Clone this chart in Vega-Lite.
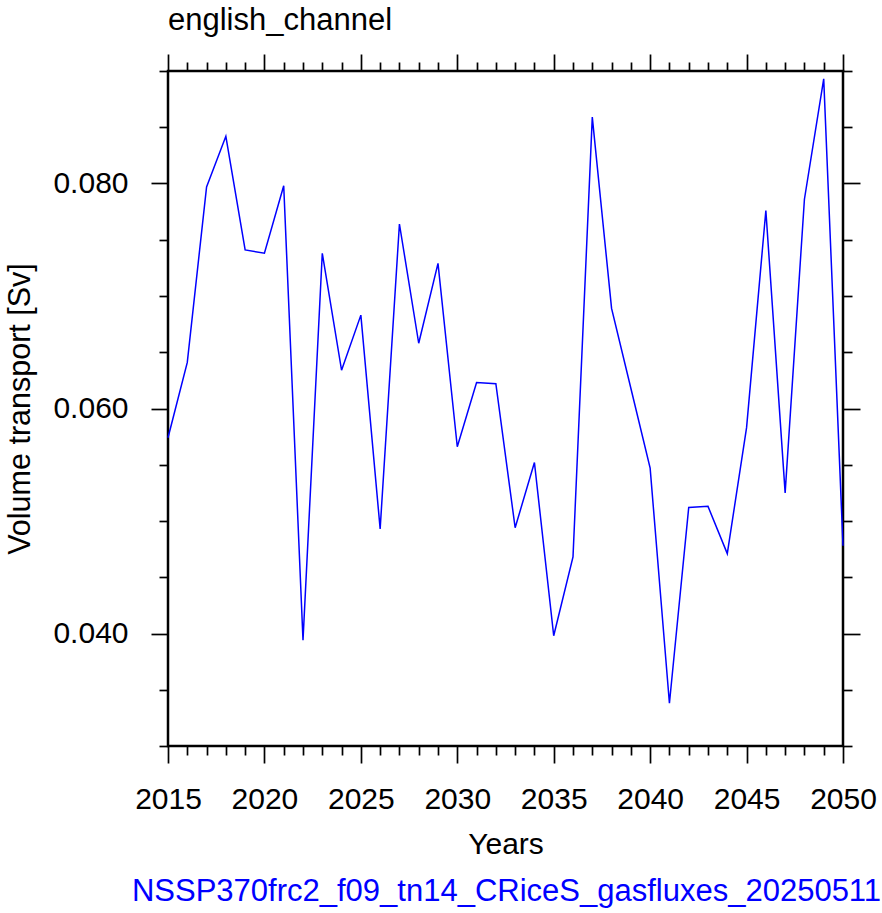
{
  "$schema": "https://vega.github.io/schema/vega-lite/v6.json",
  "width": 675,
  "height": 675,
  "autosize": {"type": "none"},
  "padding": {"left": 168, "top": 71, "right": 39, "bottom": 167},
  "background": "white",
  "title": {
    "text": "english_channel",
    "anchor": "start",
    "frame": "group",
    "orient": "top",
    "baseline": "alphabetic",
    "offset": -8,
    "font": "Liberation Sans",
    "fontSize": 31,
    "fontWeight": "normal",
    "color": "black"
  },
  "data": {
    "values": [
      {"year": 2015, "transport": 0.0574},
      {"year": 2016, "transport": 0.0641},
      {"year": 2017, "transport": 0.0797},
      {"year": 2018, "transport": 0.0842},
      {"year": 2019, "transport": 0.0741},
      {"year": 2020, "transport": 0.0738},
      {"year": 2021, "transport": 0.0798},
      {"year": 2022, "transport": 0.0394},
      {"year": 2023, "transport": 0.0738},
      {"year": 2024, "transport": 0.0634},
      {"year": 2025, "transport": 0.0683},
      {"year": 2026, "transport": 0.0493},
      {"year": 2027, "transport": 0.0764},
      {"year": 2028, "transport": 0.0658},
      {"year": 2029, "transport": 0.0729},
      {"year": 2030, "transport": 0.0566},
      {"year": 2031, "transport": 0.0623},
      {"year": 2032, "transport": 0.0622},
      {"year": 2033, "transport": 0.0494},
      {"year": 2034, "transport": 0.0552},
      {"year": 2035, "transport": 0.0398},
      {"year": 2036, "transport": 0.0468},
      {"year": 2037, "transport": 0.0859},
      {"year": 2038, "transport": 0.0689},
      {"year": 2039, "transport": 0.0618},
      {"year": 2040, "transport": 0.0547},
      {"year": 2041, "transport": 0.0338},
      {"year": 2042, "transport": 0.0512},
      {"year": 2043, "transport": 0.0513},
      {"year": 2044, "transport": 0.0471},
      {"year": 2045, "transport": 0.0583},
      {"year": 2046, "transport": 0.0776},
      {"year": 2047, "transport": 0.0525},
      {"year": 2048, "transport": 0.0786},
      {"year": 2049, "transport": 0.0893},
      {"year": 2050, "transport": 0.0478}
    ]
  },
  "layer": [
    {
      "mark": {"type": "line", "color": "#0000FF", "strokeWidth": 1.5},
      "encoding": {
        "x": {
          "field": "year", "type": "quantitative",
          "scale": {"domain": [2015, 2050], "nice": false, "zero": false},
          "axis": {
            "orient": "bottom",
            "values": [2015, 2020, 2025, 2030, 2035, 2040, 2045, 2050],
            "format": "d",
            "tickSize": 17,
            "labelPadding": 21,
            "labelFlush": false,
            "labelOverlap": false,
            "title": "Years",
            "titleBaseline": "alphabetic",
            "titleY": 107
          }
        },
        "y": {
          "field": "transport", "type": "quantitative",
          "scale": {"domain": [0.03, 0.09], "nice": false, "zero": false},
          "axis": {
            "orient": "left",
            "values": [0.04, 0.06, 0.08],
            "format": ".3f",
            "tickSize": 17,
            "labelPadding": 23,
            "labelOverlap": false,
            "title": "Volume transport [Sv]",
            "titleFontSize": 30.5,
            "titleBaseline": "alphabetic",
            "titleX": -139
          }
        }
      }
    },
    {
      "mark": {"type": "line", "opacity": 0},
      "encoding": {
        "x": {
          "field": "year", "type": "quantitative",
          "scale": {"domain": [2015, 2050], "nice": false, "zero": false},
          "axis": {
            "orient": "bottom",
            "values": [2016, 2017, 2018, 2019, 2021, 2022, 2023, 2024, 2026, 2027, 2028, 2029, 2031, 2032, 2033, 2034, 2036, 2037, 2038, 2039, 2041, 2042, 2043, 2044, 2046, 2047, 2048, 2049],
            "tickSize": 9,
            "labels": false,
            "title": "NSSP370frc2_f09_tn14_CRiceS_gasfluxes_20250511",
            "titleColor": "#0000FF",
            "titleFontSize": 31,
            "titleBaseline": "alphabetic",
            "titleX": 338,
            "titleY": 154
          }
        },
        "y": {
          "field": "transport", "type": "quantitative",
          "scale": {"domain": [0.03, 0.09], "nice": false, "zero": false},
          "axis": {
            "orient": "left",
            "values": [0.03, 0.035, 0.045, 0.05, 0.055, 0.065, 0.07, 0.075, 0.085, 0.09],
            "tickSize": 9,
            "labels": false,
            "title": null
          }
        }
      }
    },
    {
      "mark": {"type": "line", "opacity": 0},
      "encoding": {
        "x": {
          "field": "year", "type": "quantitative",
          "scale": {"domain": [2015, 2050], "nice": false, "zero": false},
          "axis": {
            "orient": "top",
            "values": [2015, 2020, 2025, 2030, 2035, 2040, 2045, 2050],
            "tickSize": 17,
            "labels": false,
            "title": null
          }
        },
        "y": {
          "field": "transport", "type": "quantitative",
          "scale": {"domain": [0.03, 0.09], "nice": false, "zero": false},
          "axis": {
            "orient": "right",
            "values": [0.04, 0.06, 0.08],
            "tickSize": 17,
            "labels": false,
            "title": null
          }
        }
      }
    },
    {
      "mark": {"type": "line", "opacity": 0},
      "encoding": {
        "x": {
          "field": "year", "type": "quantitative",
          "scale": {"domain": [2015, 2050], "nice": false, "zero": false},
          "axis": {
            "orient": "top",
            "values": [2016, 2017, 2018, 2019, 2021, 2022, 2023, 2024, 2026, 2027, 2028, 2029, 2031, 2032, 2033, 2034, 2036, 2037, 2038, 2039, 2041, 2042, 2043, 2044, 2046, 2047, 2048, 2049],
            "tickSize": 9,
            "labels": false,
            "title": null
          }
        },
        "y": {
          "field": "transport", "type": "quantitative",
          "scale": {"domain": [0.03, 0.09], "nice": false, "zero": false},
          "axis": {
            "orient": "right",
            "values": [0.03, 0.035, 0.045, 0.05, 0.055, 0.065, 0.07, 0.075, 0.085, 0.09],
            "tickSize": 9,
            "labels": false,
            "title": null
          }
        }
      }
    }
  ],
  "resolve": {"axis": {"x": "independent", "y": "independent"}},
  "config": {
    "view": {"stroke": "black", "strokeWidth": 2.5},
    "axis": {
      "domain": false,
      "grid": false,
      "tickColor": "black",
      "tickWidth": 1.7,
      "labelFont": "Liberation Sans",
      "labelFontSize": 30,
      "labelColor": "black",
      "titleFont": "Liberation Sans",
      "titleFontSize": 30,
      "titleFontWeight": "normal",
      "titleColor": "black"
    }
  }
}
